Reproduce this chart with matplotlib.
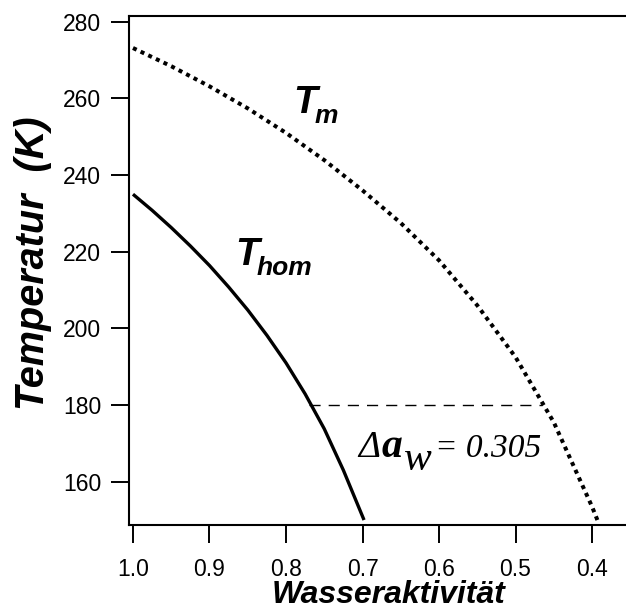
import matplotlib
matplotlib.use("Agg")
import matplotlib.pyplot as plt
from matplotlib.transforms import offset_copy

# Schmelzkurve (Eis) und homogene Gefrierkurve über der Wasseraktivität
aw_melt = [1.000, 0.950, 0.900, 0.850, 0.800, 0.750, 0.700, 0.650, 0.600,
           0.550, 0.500, 0.450, 0.400, 0.393]
T_melt = [273.15, 268.4, 263.15, 257.4, 251.0, 243.9, 236.0, 227.5, 217.75,
          206.0, 192.5, 175.5, 153.5, 150.0]

aw_hom = [1.000, 0.975, 0.950, 0.925, 0.900, 0.875, 0.850, 0.825, 0.800,
          0.775, 0.750, 0.725, 0.698]
T_hom = [235.0, 230.8, 226.3, 221.5, 216.4, 210.8, 204.8, 198.2, 191.0,
         182.9, 173.8, 163.0, 150.0]

# Abstand bei 180 K
T_ref = 180.0
aw_hom_ref = 0.770
aw_melt_ref = 0.465
delta_aw = 0.305

xticks = [1.0, 0.9, 0.8, 0.7, 0.6, 0.5, 0.4]
yticks = [160, 180, 200, 220, 240, 260, 280]

plt.rcParams["font.family"] = ["Liberation Sans", "DejaVu Sans"]

fig = plt.figure(figsize=(6.26, 6.10), dpi=100)
ax = fig.add_axes([129 / 626, 85 / 610, 497 / 626, 509 / 610])

ax.plot(aw_melt, T_melt, color="black", lw=2.9, linestyle=(0, (1, 1.1)))
ax.plot(aw_hom, T_hom, color="black", lw=2.4, solid_capstyle="butt")
ax.plot([aw_hom_ref, aw_melt_ref], [T_ref, T_ref], color="black", lw=1.0,
        linestyle=(0, (8, 5.8)))

ax.set_xlim(1.0052, 0.3556)
ax.set_ylim(148.7, 281.5)
ax.set_xticks(xticks)
ax.set_xticklabels([f"{v:.1f}" for v in xticks])
ax.set_yticks(yticks)

for side in ("left", "bottom", "top"):
    ax.spines[side].set_linewidth(1.5)
ax.spines["right"].set_visible(False)
ax.tick_params(direction="out", length=13, width=1.4, labelsize=16.5,
               top=False, right=False)
ax.tick_params(axis="x", pad=11)
ax.tick_params(axis="y", pad=7)

ax.set_xlabel("Wasseraktivität", fontsize=23, fontweight="bold",
              fontstyle="italic", va="baseline")
ax.xaxis.set_label_coords(0.523, -0.153)
ax.set_ylabel("Temperatur  (K)", fontsize=28.5, fontweight="bold",
              fontstyle="italic")
ax.yaxis.set_label_coords(-0.155, 0.515)

# Kurvenbeschriftungen
lab = dict(fontweight="bold", fontstyle="italic", color="black",
           ha="left", va="baseline")
ax.text(0.790, 256.2, "T", fontsize=28, **lab)
ax.text(0.763, 253.6, "m", fontsize=19, **lab)
ax.text(0.866, 216.5, "T", fontsize=28, **lab)
ax.text(0.839, 213.9, "hom", fontsize=19, **lab)

# Δa_w = 0.305, aus Einzelteilen in Serifenschrift zusammengesetzt
serif = "Liberation Serif"
anchor = (0.706, 166.4)
parts = [
    ("\u0394", 0, 0, 27, "normal"),
    ("a", 24, 0, 30, "bold"),
    ("w", 46, -13, 30, "normal"),
    ("= %.3f" % delta_aw, 77, 0, 24, "normal"),
]
for s, dx, dy, size, weight in parts:
    tr = offset_copy(ax.transData, fig=fig, x=dx, y=dy, units="dots")
    ax.text(*anchor, s, transform=tr, fontsize=size, family=serif,
            fontstyle="italic", fontweight=weight, ha="left", va="baseline")

fig.savefig("out.png", dpi=100, facecolor="white")
